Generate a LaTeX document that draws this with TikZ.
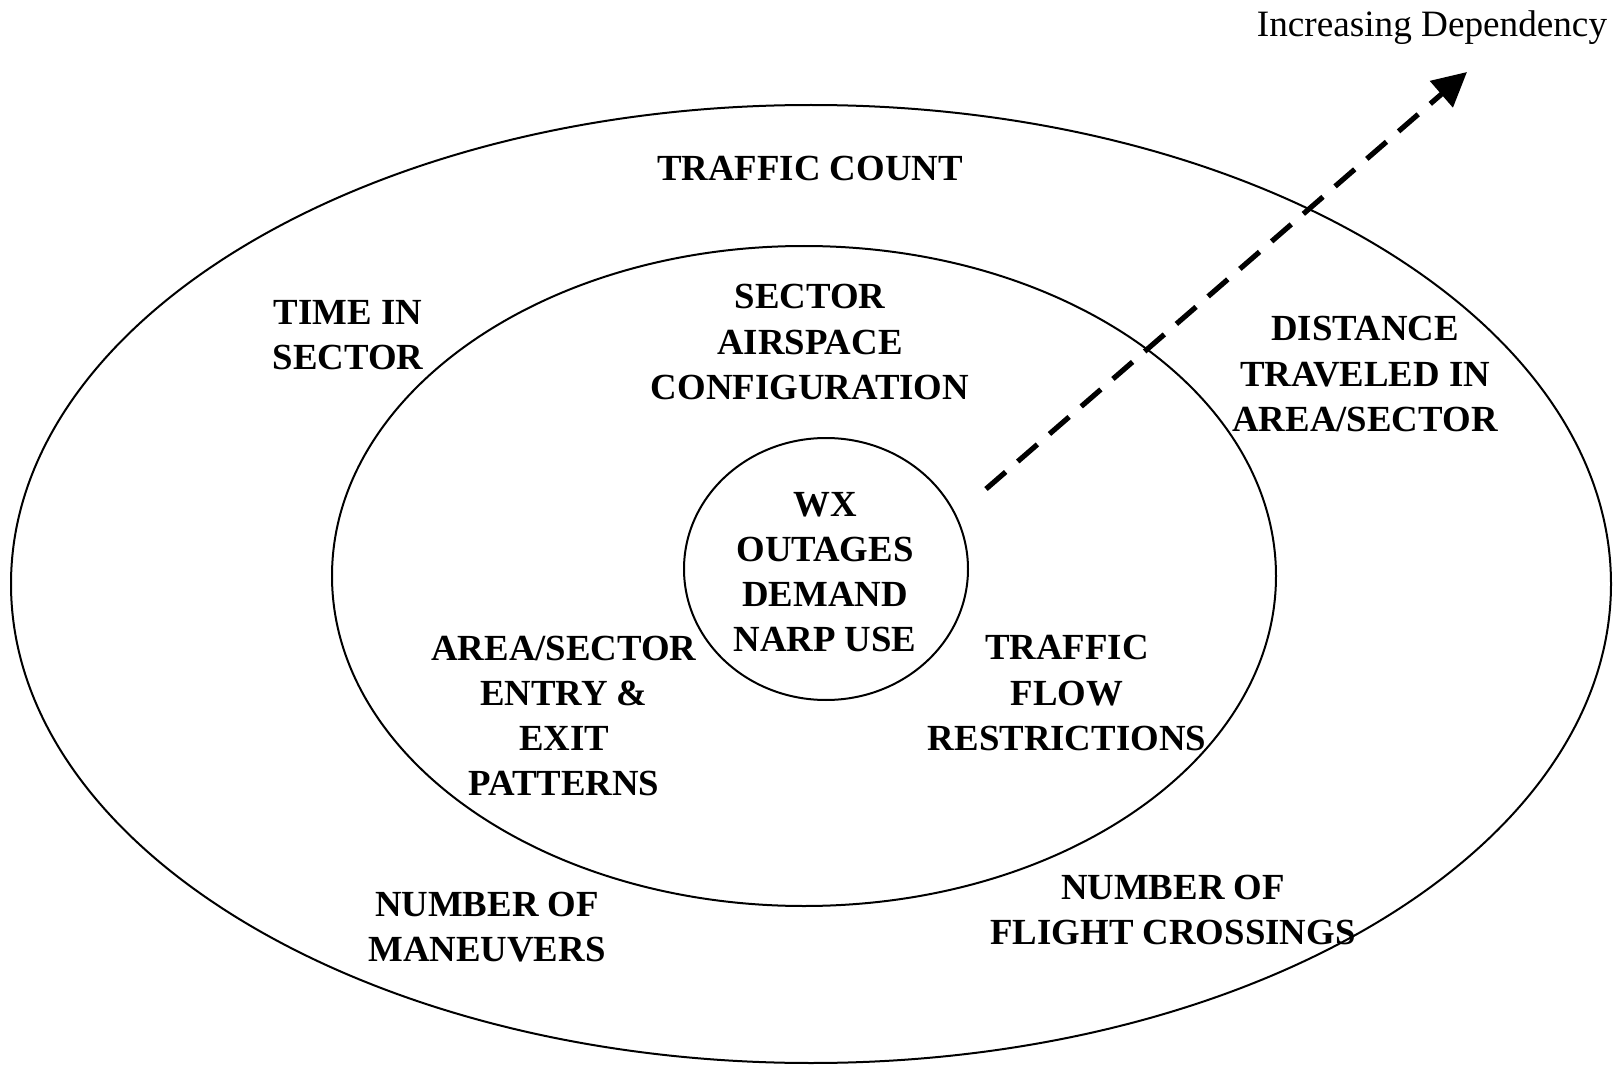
\documentclass[tikz,border=0pt]{standalone}
\usepackage{fontspec}
\setmainfont{Liberation Serif}
\usetikzlibrary{arrows.meta}

\tikzset{
  lbl/.style={font=\bfseries\fontsize{18.4}{22.6}\selectfont, align=center, inner sep=0pt},
  ring/.style={line width=1pt}
}

\begin{document}
\begin{tikzpicture}[x=0.5pt,y=-0.5pt]
          \useasboundingbox (0,0) rectangle (1614,1065);
          % three rings
          \draw[ring] (811,584) ellipse [x radius=800, y radius=479];
          \draw[ring] (804,576) ellipse [x radius=472, y radius=330];
          \draw[ring] (826,569) ellipse [x radius=142, y radius=131];
          % outer ring
          \node[lbl] (count) at (810,168) {TRAFFIC COUNT};
          \node[lbl] (time) at (348,335) {TIME IN\\SECTOR};
          \node[lbl] (dist) at (1365,374) {DISTANCE\\TRAVELED IN\\AREA/SECTOR};
          \node[lbl] (maneuv) at (487,927) {NUMBER OF\\MANEUVERS};
          \node[lbl] (cross) at (1173,910) {NUMBER OF\\FLIGHT CROSSINGS};
          % middle ring
          \node[lbl] (config) at (810,342) {SECTOR\\AIRSPACE\\CONFIGURATION};
          \node[lbl] (entry) at (564,716) {AREA/SECTOR\\ENTRY \&\\EXIT\\PATTERNS};
          \node[lbl] (flow) at (1067,693) {TRAFFIC\\FLOW\\RESTRICTIONS};
          % core
          \node[lbl] (core) at (825,572) {WX\\OUTAGES\\DEMAND\\NARP USE};
          % dependency arrow
          \node[font=\fontsize{18.6}{22}\selectfont, inner sep=0pt] (dep) at (1432,28) {Increasing Dependency};
          \coordinate (tail) at (986,489);
          \coordinate (tip) at (1467,72);
          \draw[line width=2.6pt, dash pattern=on 13pt off 8pt, -{Triangle[length=17pt,width=17pt]}] 
                (tail) -- (tip);
        \end{tikzpicture}
\end{document}
